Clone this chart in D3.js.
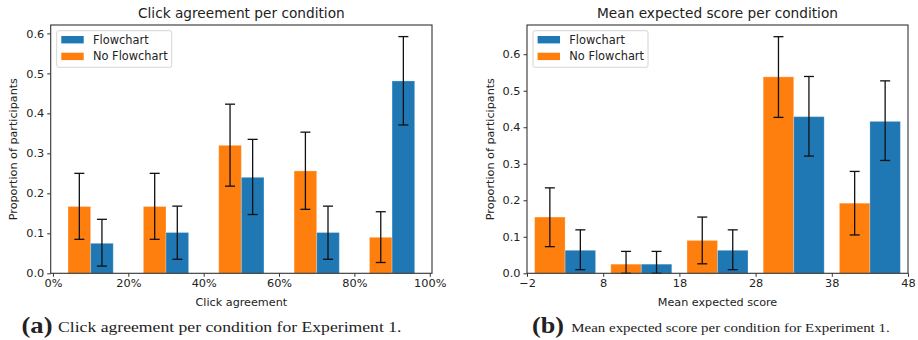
<!DOCTYPE html>
<html>
<head>
<meta charset="utf-8">
<script src="https://cdn.jsdelivr.net/npm/d3@7"></script>
<style>
  body { margin: 0; background: #fff; }
  svg text { font-family: "DejaVu Sans", sans-serif; fill: #222; }
  .caption text { font-family: "Liberation Serif", "DejaVu Serif", serif; }
</style>
</head>
<body>
<div id="chart"></div>
<script>
// ---- data ----
var seriesNames = ["Flowchart", "No Flowchart"];

// (a) click agreement, bins of 20%
var clickCenters = [0.1, 0.3, 0.5, 0.7, 0.9];
var clickNoFlow = [0.167, 0.167, 0.320, 0.256, 0.090];
var clickNoFlowLo = [0.085, 0.085, 0.218, 0.160, 0.027];
var clickNoFlowHi = [0.250, 0.250, 0.423, 0.353, 0.154];
var clickFlow = [0.075, 0.102, 0.240, 0.102, 0.481];
var clickFlowLo = [0.018, 0.035, 0.147, 0.035, 0.371];
var clickFlowHi = [0.135, 0.168, 0.335, 0.168, 0.592];
var clickTicks = [0, 0.2, 0.4, 0.6, 0.8, 1.0];

// (b) mean expected score, bins of 10
var scoreCenters = [3, 13, 23, 33, 43];
var scoreNoFlow = [0.154, 0.025, 0.090, 0.538, 0.192];
var scoreNoFlowLo = [0.073, 0.000, 0.026, 0.427, 0.105];
var scoreNoFlowHi = [0.234, 0.060, 0.154, 0.648, 0.279];
var scoreFlow = [0.063, 0.025, 0.063, 0.429, 0.416];
var scoreFlowLo = [0.010, 0.000, 0.010, 0.321, 0.309];
var scoreFlowHi = [0.119, 0.060, 0.119, 0.539, 0.527];
var scoreTicks = [-2, 8, 18, 28, 38, 48];

var yTicks = [0, 0.1, 0.2, 0.3, 0.4, 0.5, 0.6];

var colors = { "Flowchart": "#1f77b4", "No Flowchart": "#ff7f0e" };

var width = 918, height = 340;

var svg = d3.select("#chart").append("svg")
    .attr("width", width)
    .attr("height", height);

var makePanel = function(p) {
    var x = d3.scaleLinear().domain(p.xDomain).range([p.left, p.right]),
        y = d3.scaleLinear().domain(p.yDomain).range([p.bottom, p.top]),
        g = svg.append("g");

    var rows = p.centers.map(function(c, i) {
        return [
            { s: "No Flowchart", x0: c - p.barW, v: p.noFlow[i], lo: p.noFlowLo[i], hi: p.noFlowHi[i] },
            { s: "Flowchart", x0: c, v: p.flow[i], lo: p.flowLo[i], hi: p.flowHi[i] }
        ];
    });
    var bars = [].concat.apply([], rows);

    g.selectAll("rect.bar")
        .data(bars)
        .enter()
        .append("rect")
        .attr("class", "bar")
        .attr("x", function(d) { return x(d.x0); })
        .attr("y", function(d) { return y(d.v); })
        .attr("width", function(d) { return x(d.x0 + p.barW) - x(d.x0); })
        .attr("height", function(d) { return y(0) - y(d.v); })
        .style("fill", function(d) { return colors[d.s]; })
        .style("stroke", "rgba(255,255,255,0.25)")
        .style("stroke-width", 1);

    // error bars
    var cap = 5;
    var eb = g.selectAll("g.err")
        .data(bars)
        .enter()
        .append("g")
        .attr("class", "err")
        .attr("stroke", "#111")
        .attr("stroke-width", 1.3);
    eb.append("line")
        .attr("x1", function(d) { return x(d.x0 + p.barW / 2); })
        .attr("x2", function(d) { return x(d.x0 + p.barW / 2); })
        .attr("y1", function(d) { return y(d.lo); })
        .attr("y2", function(d) { return y(d.hi); });
    eb.append("line")
        .attr("x1", function(d) { return x(d.x0 + p.barW / 2) - cap; })
        .attr("x2", function(d) { return x(d.x0 + p.barW / 2) + cap; })
        .attr("y1", function(d) { return y(d.hi); })
        .attr("y2", function(d) { return y(d.hi); });
    eb.append("line")
        .attr("x1", function(d) { return x(d.x0 + p.barW / 2) - cap; })
        .attr("x2", function(d) { return x(d.x0 + p.barW / 2) + cap; })
        .attr("y1", function(d) { return y(d.lo); })
        .attr("y2", function(d) { return y(d.lo); });

    // axes
    var xAxis = g.append("g")
        .attr("transform", "translate(0," + p.bottom + ")")
        .call(d3.axisBottom(x).tickValues(p.xTicks).tickFormat(p.xFormat).tickSizeOuter(0).tickSize(3.5).tickPadding(2));
    var yAxis = g.append("g")
        .attr("transform", "translate(" + p.left + ",0)")
        .call(d3.axisLeft(y).tickValues(yTicks).tickFormat(d3.format(".1f")).tickSizeOuter(0).tickSize(3.5).tickPadding(3));
    [xAxis, yAxis].forEach(function(a) {
        a.select(".domain").remove();
        a.selectAll("line").attr("stroke", "#333").attr("stroke-width", 1);
        a.selectAll("text").style("font-size", "11.3px").attr("fill", "#222");
    });

    // frame
    g.append("rect")
        .attr("x", p.left)
        .attr("y", p.top)
        .attr("width", p.right - p.left)
        .attr("height", p.bottom - p.top)
        .style("fill", "none")
        .style("stroke", "#333")
        .style("stroke-width", 1.1);

    // titles
    g.append("text")
        .attr("x", (p.left + p.right) / 2)
        .attr("y", 18.3)
        .attr("text-anchor", "middle")
        .style("font-size", "13.7px")
        .text(p.title);
    g.append("text")
        .attr("x", (p.left + p.right) / 2)
        .attr("y", 305.8)
        .attr("text-anchor", "middle")
        .style("font-size", "11.2px")
        .text(p.xLabel);
    g.append("text")
        .attr("transform", "translate(" + p.yLabelX + "," + ((p.top + p.bottom) / 2) + ") rotate(-90)")
        .attr("text-anchor", "middle")
        .attr("dy", "0.35em")
        .style("font-size", "11.2px")
        .text("Proportion of participants");

    // legend
    var lg = g.append("g").attr("transform", "translate(" + (p.left + 6) + "," + (p.top + 5.7) + ")");
    lg.append("rect")
        .attr("width", 115)
        .attr("height", 36.6)
        .attr("rx", 2)
        .style("fill", "rgba(255,255,255,0.85)")
        .style("stroke", "#d5d5d5")
        .style("stroke-width", 1);
    var items = lg.selectAll("g.item")
        .data(seriesNames)
        .enter()
        .append("g")
        .attr("transform", function(d, i) { return "translate(4.6," + (5.3 + i * 16.7) + ")"; });
    items.append("rect")
        .attr("width", 22.4)
        .attr("height", 7.4)
        .style("fill", function(d) { return colors[d]; });
    items.append("text")
        .attr("x", 31.7)
        .attr("y", 3.7)
        .attr("dy", "0.35em")
        .style("font-size", "11.4px")
        .text(function(d) { return d; });

    // caption
    var cg = svg.append("g").attr("class", "caption");
    cg.append("text")
        .attr("x", p.capX)
        .attr("y", 333)
        .attr("textLength", p.capTagW)
        .attr("lengthAdjust", "spacingAndGlyphs")
        .style("font-size", "24px")
        .style("font-weight", "bold")
        .text(p.capTag);
    cg.append("text")
        .attr("x", p.capTextX)
        .attr("y", 332)
        .attr("textLength", p.capTextW)
        .attr("lengthAdjust", "spacingAndGlyphs")
        .style("font-size", p.capSize + "px")
        .text(p.caption);
};

makePanel({
    left: 50.7, right: 432, top: 25, bottom: 273.3,
    xDomain: [-0.006, 1.006], yDomain: [0, 0.621],
    barW: 0.06,
    centers: clickCenters,
    noFlow: clickNoFlow, noFlowLo: clickNoFlowLo, noFlowHi: clickNoFlowHi,
    flow: clickFlow, flowLo: clickFlowLo, flowHi: clickFlowHi,
    xTicks: clickTicks, xFormat: d3.format(".0%"),
    title: "Click agreement per condition",
    xLabel: "Click agreement",
    yLabelX: 13.3,
    capTag: "(a)", capX: 21.5, capTagW: 31, capTextX: 58, capTextW: 343.5, capSize: 15,
    caption: "Click agreement per condition for Experiment 1."
});

makePanel({
    left: 527, right: 908, top: 25, bottom: 273.3,
    xDomain: [-2, 48], yDomain: [0, 0.68],
    barW: 4,
    centers: scoreCenters,
    noFlow: scoreNoFlow, noFlowLo: scoreNoFlowLo, noFlowHi: scoreNoFlowHi,
    flow: scoreFlow, flowLo: scoreFlowLo, flowHi: scoreFlowHi,
    xTicks: scoreTicks, xFormat: d3.format("d"),
    title: "Mean expected score per condition",
    xLabel: "Mean expected score",
    yLabelX: 489.7,
    capTag: "(b)", capX: 532, capTagW: 32, capTextX: 571.3, capTextW: 318.4, capSize: 13.5,
    caption: "Mean expected score per condition for Experiment 1."
});
</script>
</body>
</html>
